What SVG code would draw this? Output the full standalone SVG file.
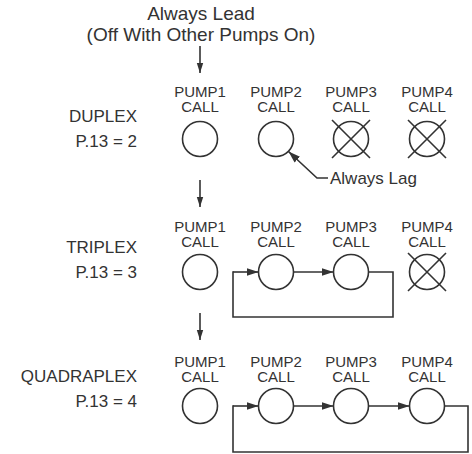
<svg xmlns="http://www.w3.org/2000/svg" width="472" height="454" viewBox="0 0 472 454">
<style>
text{font-family:"Liberation Sans",Arial,sans-serif;fill:#333}
.top{font-size:19px;text-anchor:middle}
.row{font-size:17px;text-anchor:end}
.pl{font-size:15px;text-anchor:middle}
.lag{font-size:17px}
.c{fill:#fff;stroke:#333;stroke-width:1.6}
.x{stroke:#333;stroke-width:1.6}
.ln{fill:none;stroke:#333;stroke-width:1.6}
</style>
<defs>
<marker id="ah" markerUnits="userSpaceOnUse" markerWidth="12" markerHeight="8" refX="12" refY="4" orient="auto">
<path d="M0,0 L12,4 L0,8 Z" fill="#333"/>
</marker>
<marker id="dh" markerUnits="userSpaceOnUse" markerWidth="10" markerHeight="8" refX="10" refY="4" orient="auto">
<path d="M0,0.8 L10,4 L0,7.2 Z" fill="#333"/>
</marker>
</defs>
<g id="top-label">
<text class="top" x="201" y="20">Always Lead</text>
<text class="top" x="201" y="41">(Off With Other Pumps On)</text>
</g>
<g id="duplex-label"><text class="row" x="137" y="122">DUPLEX</text><text class="row" x="137" y="147">P.13 = 2</text></g>
<g id="triplex-label"><text class="row" x="137" y="253">TRIPLEX</text><text class="row" x="137" y="278">P.13 = 3</text></g>
<g id="quadraplex-label"><text class="row" x="137" y="382">QUADRAPLEX</text><text class="row" x="137" y="407">P.13 = 4</text></g>

<g id="d-p1"><text class="pl" x="200" y="96.5">PUMP1</text><text class="pl" x="200" y="112">CALL</text><circle class="c" cx="200" cy="139" r="17.5"/></g>
<g id="d-p2"><text class="pl" x="276" y="96.5">PUMP2</text><text class="pl" x="276" y="112">CALL</text><circle class="c" cx="276" cy="139" r="17.5"/></g>
<g id="d-p3"><text class="pl" x="351" y="96.5">PUMP3</text><text class="pl" x="351" y="112">CALL</text><circle class="c" cx="351" cy="139" r="17.5"/><path class="x" d="M332,120 L370,158 M370,120 L332,158"/></g>
<g id="d-p4"><text class="pl" x="427" y="96.5">PUMP4</text><text class="pl" x="427" y="112">CALL</text><circle class="c" cx="427" cy="139" r="17.5"/><path class="x" d="M408,120 L446,158 M446,120 L408,158"/></g>
<g id="always-lag"><text class="lag" x="330" y="184">Always Lag</text></g>

<g id="t-p1"><text class="pl" x="200" y="231.5">PUMP1</text><text class="pl" x="200" y="247">CALL</text><circle class="c" cx="200" cy="272" r="17.5"/></g>
<g id="t-p2"><text class="pl" x="276" y="231.5">PUMP2</text><text class="pl" x="276" y="247">CALL</text><circle class="c" cx="276" cy="272" r="17.5"/></g>
<g id="t-p3"><text class="pl" x="351" y="231.5">PUMP3</text><text class="pl" x="351" y="247">CALL</text><circle class="c" cx="351" cy="272" r="17.5"/></g>
<g id="t-p4"><text class="pl" x="427" y="231.5">PUMP4</text><text class="pl" x="427" y="247">CALL</text><circle class="c" cx="427" cy="272" r="17.5"/><path class="x" d="M408,253 L446,291 M446,253 L408,291"/></g>

<g id="q-p1"><text class="pl" x="200" y="366.5">PUMP1</text><text class="pl" x="200" y="382">CALL</text><circle class="c" cx="200" cy="406" r="17.5"/></g>
<g id="q-p2"><text class="pl" x="276" y="366.5">PUMP2</text><text class="pl" x="276" y="382">CALL</text><circle class="c" cx="276" cy="406" r="17.5"/></g>
<g id="q-p3"><text class="pl" x="351" y="366.5">PUMP3</text><text class="pl" x="351" y="382">CALL</text><circle class="c" cx="351" cy="406" r="17.5"/></g>
<g id="q-p4"><text class="pl" x="427" y="366.5">PUMP4</text><text class="pl" x="427" y="382">CALL</text><circle class="c" cx="427" cy="406" r="17.5"/></g>

<g id="connectors">
<path class="ln" d="M200,46 L200,73" marker-end="url(#dh)"/>
<path class="ln" d="M200,180 L200,207" marker-end="url(#dh)"/>
<path class="ln" d="M200,313 L200,340" marker-end="url(#dh)"/>
<path class="ln" d="M328,178 L317,178 L288.5,151.5" marker-end="url(#ah)"/>
<path class="ln" d="M233,272 L258.5,272" marker-end="url(#ah)"/>
<path class="ln" d="M293.5,272 L333.5,272" marker-end="url(#ah)"/>
<path class="ln" d="M368.5,272 L393,272 L393,317 L233,317 L233,271.2"/>
<path class="ln" d="M233,406 L258.5,406" marker-end="url(#ah)"/>
<path class="ln" d="M293.5,406 L333.5,406" marker-end="url(#ah)"/>
<path class="ln" d="M368.5,406 L409.5,406" marker-end="url(#ah)"/>
<path class="ln" d="M444.5,406 L468,406 L468,452 L233,452 L233,405.2"/>
</g>
</svg>
